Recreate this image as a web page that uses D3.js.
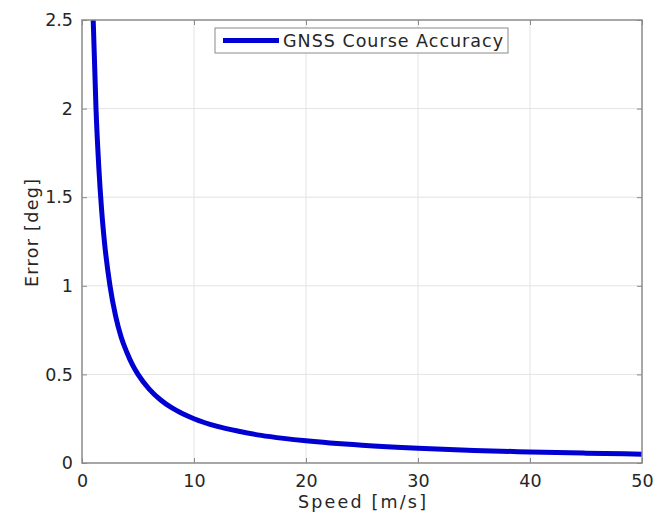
<!DOCTYPE html>
<html><head><meta charset="utf-8">
<script src="https://cdn.jsdelivr.net/npm/d3@7"></script>
<style>body{margin:0;background:#fff}svg{display:block}text{font-family:"DejaVu Sans",Verdana,sans-serif;fill:#262626}</style>
</head><body>
<svg id="c" width="654" height="519"></svg>
<script>
const speeds = [1, 1.25, 1.5, 1.75, 2, 2.5, 3, 3.5, 4, 4.5, 5, 6, 7, 8, 9, 10, 12, 14, 16, 18, 20, 25, 30, 35, 40, 45, 50];
const errors = [2.5, 2.0, 1.67, 1.43, 1.25, 1.0, 0.83, 0.71, 0.625, 0.555, 0.5, 0.417, 0.357, 0.312, 0.278, 0.25, 0.208, 0.179, 0.156, 0.139, 0.125, 0.1, 0.083, 0.071, 0.0625, 0.0555, 0.05];
const xTicks = [0, 10, 20, 30, 40, 50];
const yTicks = [0, 0.5, 1, 1.5, 2, 2.5];
const seriesName = "GNSS Course Accuracy";
const xLabel = "Speed [m/s]";
const yLabel = "Error [deg]";

const svg = d3.select("#c");
const L = 82, R = 642, T = 20, B = 463;
const x = d3.scaleLinear().domain([0, 50]).range([L, R]);
const y = d3.scaleLinear().domain([0, 2.5]).range([B, T]);
const axisCol = "#8a8a8a";
const fs = 17.5;

// grid
svg.append("g").selectAll("line").data(xTicks.slice(1, -1)).join("line")
  .attr("x1", d => x(d)).attr("x2", d => x(d)).attr("y1", T).attr("y2", B)
  .attr("stroke", "#e3e3e3").attr("stroke-width", 1);
svg.append("g").selectAll("line").data(yTicks.slice(1, -1)).join("line")
  .attr("y1", d => y(d)).attr("y2", d => y(d)).attr("x1", L).attr("x2", R)
  .attr("stroke", "#e3e3e3").attr("stroke-width", 1);

// line
svg.append("path").datum(speeds.map((s, i) => [s, errors[i]]))
  .attr("fill", "none").attr("stroke", "#0000d2").attr("stroke-width", 5)
  .attr("stroke-linejoin", "round")
  .attr("d", d3.line().x(d => x(d[0])).y(d => y(d[1])).curve(d3.curveMonotoneX));

// axes
function styleAxis(g) {
  g.select(".domain").remove();
  g.selectAll(".tick line").attr("stroke", axisCol);
  g.selectAll(".tick text").attr("font-size", fs).attr("fill", "#262626");
}
svg.append("g").attr("transform", `translate(0,${B})`)
  .call(d3.axisBottom(x).tickValues(xTicks).tickSizeInner(-5).tickSizeOuter(0).tickPadding(12))
  .call(styleAxis);
svg.append("g").attr("transform", `translate(0,${T})`)
  .call(d3.axisTop(x).tickValues(xTicks).tickSizeInner(-5).tickSizeOuter(0).tickFormat(""))
  .call(styleAxis);
svg.append("g").attr("transform", `translate(${L},0)`)
  .call(d3.axisLeft(y).tickValues(yTicks).tickSizeInner(-5).tickSizeOuter(0).tickPadding(9).tickFormat(d3.format("")))
  .call(styleAxis);
svg.append("g").attr("transform", `translate(${R},0)`)
  .call(d3.axisRight(y).tickValues(yTicks).tickSizeInner(-5).tickSizeOuter(0).tickFormat(""))
  .call(styleAxis);

svg.append("rect").attr("x", L).attr("y", T).attr("width", R - L).attr("height", B - T)
  .attr("fill", "none").attr("stroke", axisCol).attr("stroke-width", 1.5);

// labels
svg.append("text").attr("x", (L + R) / 2).attr("y", 508).attr("text-anchor", "middle")
  .attr("font-size", fs).attr("textLength", 128).attr("lengthAdjust", "spacing").text(xLabel);
svg.append("text").attr("transform", "translate(38,233) rotate(-90)").attr("text-anchor", "middle")
  .attr("font-size", fs).attr("textLength", 108).attr("lengthAdjust", "spacing").text(yLabel);

// legend
const lg = svg.append("g");
lg.append("rect").attr("x", 215).attr("y", 28).attr("width", 293).attr("height", 25)
  .attr("fill", "#fff").attr("stroke", axisCol).attr("stroke-width", 1);
lg.append("line").attr("x1", 223).attr("x2", 279).attr("y1", 40.5).attr("y2", 40.5)
  .attr("stroke", "#0000d2").attr("stroke-width", 5);
lg.append("text").attr("x", 283).attr("y", 46.5).attr("font-size", fs)
  .attr("textLength", 220).attr("lengthAdjust", "spacing").text(seriesName);
</script>
</body></html>
